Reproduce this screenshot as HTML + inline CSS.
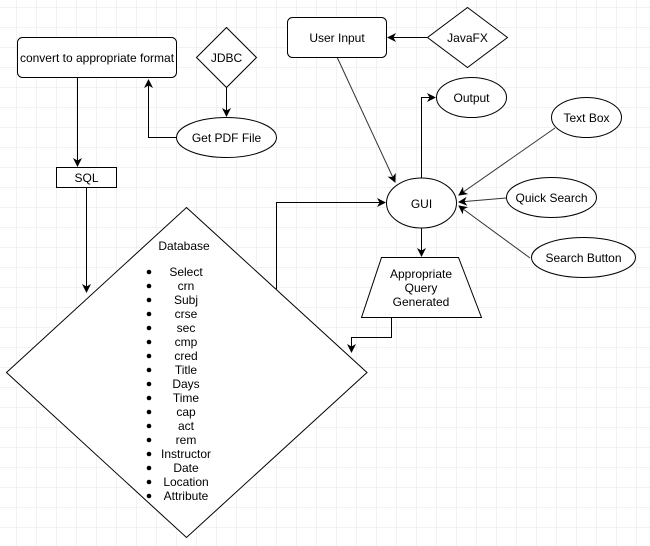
<!DOCTYPE html>
<html><head><meta charset="utf-8"><style>
html,body{margin:0;padding:0;background:#fff;}
svg{display:block;font-family:"Liberation Sans",Helvetica,Arial,sans-serif;}
</style></head><body>
<svg width="650" height="546" viewBox="0 0 650 546" xmlns="http://www.w3.org/2000/svg">
<defs>
<pattern id="g" x="16" y="7" width="20" height="20" patternUnits="userSpaceOnUse">
<path d="M0 0H20M0 0V20" stroke="#e6e6e6" stroke-width="1" fill="none"/>
</pattern>
<marker id="a" markerWidth="10" markerHeight="10" refX="8" refY="5" orient="auto" markerUnits="userSpaceOnUse">
<path d="M0 0.5 L9 5 L0 9.5 L2.5 5 Z" fill="#000"/>
</marker>
</defs>
<rect width="650" height="546" fill="#fff"/>
<rect width="650" height="546" fill="url(#g)"/>
<g stroke="#000" stroke-width="1" fill="none">
<!-- connectors -->
<path d="M226.5 87V116" marker-end="url(#a)"/>
<path d="M176 137.5H148.5V80" marker-end="url(#a)"/>
<path d="M77.5 77V166" marker-end="url(#a)"/>
<path d="M86.5 187V292" marker-end="url(#a)"/>
<path d="M427 37.5H388" marker-end="url(#a)"/>
<path d="M421.5 178V97.5H435" marker-end="url(#a)"/>
<path d="M337 57L395 182" marker-end="url(#a)" stroke="#333"/>
<path d="M555 128L459 195" marker-end="url(#a)" stroke="#333"/>
<path d="M506 198L459 202" marker-end="url(#a)" stroke="#333"/>
<path d="M530 258L459 206" marker-end="url(#a)" stroke="#333"/>
<path d="M421.5 228V256" marker-end="url(#a)"/>
<path d="M391.5 317V337.5H351.5V352" marker-end="url(#a)"/>
<path d="M276.5 289V202.5H385" marker-end="url(#a)"/>
</g>
<g stroke="#000" stroke-width="1" fill="#fff">
<rect x="17.5" y="37.5" width="159" height="40" rx="5"/>
<polygon points="226.5,27.5 256.5,57.5 226.5,87.5 196.5,57.5"/>
<ellipse cx="226.5" cy="137.5" rx="50" ry="20"/>
<rect x="56.5" y="167.5" width="60" height="20"/>
<polygon points="186.5,207.5 367,372.5 186.5,537.5 6.5,372.5"/>
<rect x="287.5" y="17.5" width="99" height="40" rx="5"/>
<polygon points="467.5,7.5 507.5,37.5 467.5,67.5 427.5,37.5"/>
<ellipse cx="471.5" cy="97.5" rx="35" ry="20"/>
<ellipse cx="421.5" cy="203" rx="35" ry="25"/>
<ellipse cx="586.5" cy="117.5" rx="35" ry="20"/>
<ellipse cx="551.5" cy="197.5" rx="45" ry="20"/>
<ellipse cx="583.5" cy="257.5" rx="52" ry="20"/>
<polygon points="381.5,257.5 458.5,257.5 481.5,317.5 361.5,317.5"/>
</g>
<g font-size="12" fill="#000" text-anchor="middle">
<text x="97" y="62">convert to appropriate format</text>
<text x="226.5" y="62">JDBC</text>
<text x="226.5" y="142">Get PDF File</text>
<text x="86.5" y="182">SQL</text>
<text x="337" y="42">User Input</text>
<text x="467.5" y="42">JavaFX</text>
<text x="471.5" y="102">Output</text>
<text x="421.5" y="208">GUI</text>
<text x="586.5" y="122">Text Box</text>
<text x="551.5" y="202">Quick Search</text>
<text x="583.5" y="262">Search Button</text>
<text x="421" y="278">Appropriate</text>
<text x="421" y="292">Query</text>
<text x="421" y="306">Generated</text>
<text x="184" y="250">Database</text>
<text x="186" y="276">Select</text>
<text x="186" y="290">crn</text>
<text x="186" y="304">Subj</text>
<text x="186" y="318">crse</text>
<text x="186" y="332">sec</text>
<text x="186" y="346">cmp</text>
<text x="186" y="360">cred</text>
<text x="186" y="374">Title</text>
<text x="186" y="388">Days</text>
<text x="186" y="402">Time</text>
<text x="186" y="416">cap</text>
<text x="186" y="430">act</text>
<text x="186" y="444">rem</text>
<text x="186" y="458">Instructor</text>
<text x="186" y="472">Date</text>
<text x="186" y="486">Location</text>
<text x="186" y="500">Attribute</text>
</g>
<g fill="#000">
<circle cx="149" cy="272" r="2.3"/><circle cx="149" cy="286" r="2.3"/><circle cx="149" cy="300" r="2.3"/>
<circle cx="149" cy="314" r="2.3"/><circle cx="149" cy="328" r="2.3"/><circle cx="149" cy="342" r="2.3"/>
<circle cx="149" cy="356" r="2.3"/><circle cx="149" cy="370" r="2.3"/><circle cx="149" cy="384" r="2.3"/>
<circle cx="149" cy="398" r="2.3"/><circle cx="149" cy="412" r="2.3"/><circle cx="149" cy="426" r="2.3"/>
<circle cx="149" cy="440" r="2.3"/><circle cx="149" cy="454" r="2.3"/><circle cx="149" cy="468" r="2.3"/>
<circle cx="149" cy="482" r="2.3"/><circle cx="149" cy="496" r="2.3"/>
</g>
</svg>
</body></html>
